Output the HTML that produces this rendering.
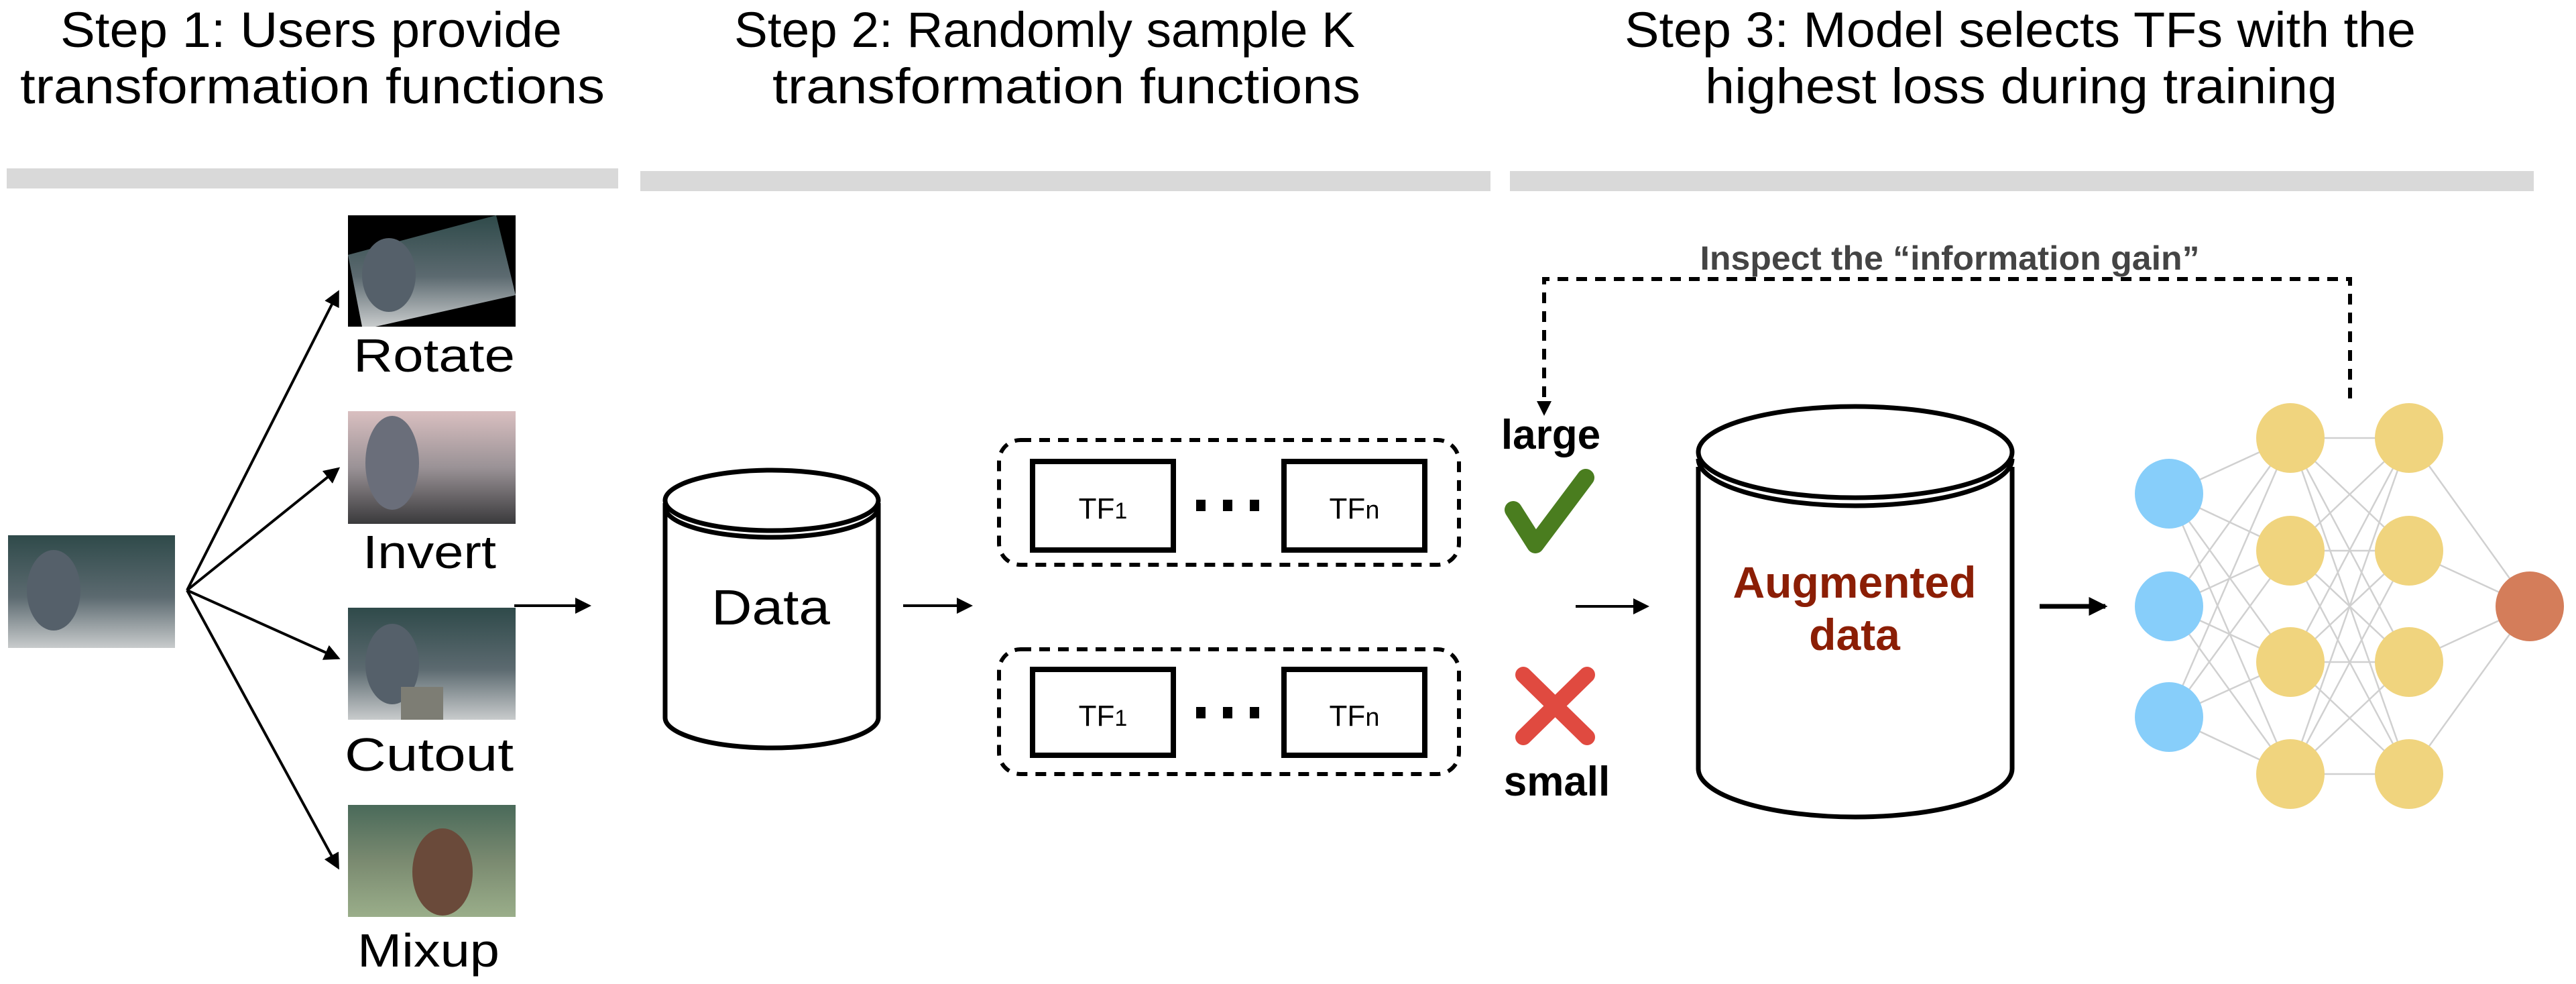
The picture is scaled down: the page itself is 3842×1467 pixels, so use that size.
<!DOCTYPE html>
<html><head><meta charset="utf-8"><style>
html,body{margin:0;padding:0;background:#fff;}
svg{display:block;}
</style></head><body>
<svg width="3842" height="1467" viewBox="0 0 3842 1467" xmlns="http://www.w3.org/2000/svg">
<defs>
<marker id="ah" markerWidth="6" markerHeight="6" refX="5" refY="3" orient="auto" markerUnits="strokeWidth"><path d="M0,0 L6,3 L0,6 z" fill="#000"/></marker>
<marker id="ah2" markerWidth="4" markerHeight="4" refX="3.5" refY="2" orient="auto" markerUnits="strokeWidth"><path d="M0,0 L4,2 L0,4 z" fill="#000"/></marker>
<linearGradient id="g1" x1="0" y1="0" x2="0" y2="1"><stop offset="0" stop-color="#2f4a4a"/><stop offset="0.55" stop-color="#5c6a70"/><stop offset="1" stop-color="#c8cbcc"/></linearGradient>
<linearGradient id="g2" x1="0" y1="0" x2="0" y2="1"><stop offset="0" stop-color="#d9bfc0"/><stop offset="0.5" stop-color="#9a9296"/><stop offset="1" stop-color="#3a3a3c"/></linearGradient>
<linearGradient id="g3" x1="0" y1="0" x2="0" y2="1"><stop offset="0" stop-color="#4a6a5a"/><stop offset="0.5" stop-color="#7a8a70"/><stop offset="1" stop-color="#9aae8a"/></linearGradient>
</defs>
<g font-family="Liberation Sans, sans-serif" fill="#000">
<!-- titles -->
<g font-size="74" lengthAdjust="spacingAndGlyphs">
<text x="90" y="70" textLength="748" lengthAdjust="spacingAndGlyphs">Step 1: Users provide</text>
<text x="30" y="154" textLength="872" lengthAdjust="spacingAndGlyphs">transformation functions</text>
<text x="1095" y="70" textLength="926" lengthAdjust="spacingAndGlyphs">Step 2: Randomly sample K</text>
<text x="1152" y="154" textLength="877" lengthAdjust="spacingAndGlyphs">transformation functions</text>
<text x="2423" y="70" textLength="1180" lengthAdjust="spacingAndGlyphs">Step 3: Model selects TFs with the</text>
<text x="2543" y="154" textLength="943" lengthAdjust="spacingAndGlyphs">highest loss during training</text>
</g>
<rect x="10" y="251" width="912" height="30" fill="#d9d9d9"/>
<rect x="955" y="255" width="1268" height="30" fill="#d9d9d9"/>
<rect x="2252" y="255" width="1527" height="30" fill="#d9d9d9"/>

<!-- images -->
<rect x="12" y="798" width="249" height="168" fill="url(#g1)"/>
<ellipse cx="80" cy="880" rx="40" ry="60" fill="#55606a"/>
<rect x="519" y="321" width="250" height="166" fill="#000"/>
<polygon points="540,487 519,380 740,321 769,440 560,487" fill="url(#g1)"/>
<ellipse cx="580" cy="410" rx="40" ry="55" fill="#55606a"/>
<rect x="519" y="613" width="250" height="168" fill="url(#g2)"/>
<ellipse cx="585" cy="690" rx="40" ry="70" fill="#6a6e7a"/>
<rect x="519" y="906" width="250" height="167" fill="url(#g1)"/>
<ellipse cx="585" cy="990" rx="40" ry="60" fill="#55606a"/>
<rect x="598" y="1024" width="63" height="49" fill="#7d7d74"/>
<rect x="519" y="1200" width="250" height="167" fill="url(#g3)"/>
<ellipse cx="660" cy="1300" rx="45" ry="65" fill="#6a4a3a"/>

<g font-size="70">
<text x="527" y="554" textLength="241" lengthAdjust="spacingAndGlyphs">Rotate</text>
<text x="541" y="847" textLength="199" lengthAdjust="spacingAndGlyphs">Invert</text>
<text x="514" y="1149" textLength="252" lengthAdjust="spacingAndGlyphs">Cutout</text>
<text x="533" y="1441" textLength="212" lengthAdjust="spacingAndGlyphs">Mixup</text>
</g>
<g stroke="#000" stroke-width="4" fill="none" marker-end="url(#ah)">
<line x1="279" y1="880" x2="504" y2="436"/>
<line x1="279" y1="880" x2="504" y2="699"/>
<line x1="279" y1="880" x2="504" y2="981"/>
<line x1="279" y1="880" x2="504" y2="1293"/>
<line x1="767" y1="903" x2="878" y2="903"/>
<line x1="1347" y1="903" x2="1447" y2="903"/>
<line x1="2350" y1="904" x2="2456" y2="904"/>
</g>
<line x1="3042" y1="904" x2="3140" y2="904" stroke="#000" stroke-width="7" marker-end="url(#ah2)"/>

<!-- Data cylinder -->
<g stroke="#000" stroke-width="7" fill="#fff">
<path d="M992,750 L992,1070 A159,45 0 0 0 1310,1070 L1310,750"/>
<path d="M992,756 A159,45 0 0 0 1310,756" fill="none"/>
<ellipse cx="1151" cy="746" rx="159" ry="45"/>
</g>
<text x="1061" y="931" font-size="74" textLength="177" lengthAdjust="spacingAndGlyphs">Data</text>

<!-- TF boxes -->
<g fill="none" stroke="#000">
<rect x="1490" y="656" width="686" height="186" rx="32" stroke-width="6" stroke-dasharray="16,12"/>
<rect x="1490" y="968" width="686" height="186" rx="32" stroke-width="6" stroke-dasharray="16,12"/>
<rect x="1540" y="688" width="210" height="132" stroke-width="8"/>
<rect x="1915" y="688" width="210" height="132" stroke-width="8"/>
<rect x="1540" y="998" width="210" height="128" stroke-width="8"/>
<rect x="1915" y="998" width="210" height="128" stroke-width="8"/>
</g>
<g fill="#000">
<rect x="1784" y="745" width="14" height="17"/><rect x="1824" y="745" width="14" height="17"/><rect x="1864" y="745" width="14" height="17"/>
<rect x="1784" y="1054" width="14" height="17"/><rect x="1824" y="1054" width="14" height="17"/><rect x="1864" y="1054" width="14" height="17"/>
</g>
<g font-size="44" text-anchor="middle">
<text x="1645" y="773">TF<tspan font-size="34">1</tspan></text>
<text x="2020" y="773">TF<tspan font-size="38">n</tspan></text>
<text x="1645" y="1082">TF<tspan font-size="34">1</tspan></text>
<text x="2020" y="1082">TF<tspan font-size="38">n</tspan></text>
</g>

<!-- feedback -->
<text x="2908" y="402" font-size="50" font-weight="bold" fill="#444" text-anchor="middle" textLength="745" lengthAdjust="spacingAndGlyphs">Inspect the “information gain”</text>
<path d="M3505,594 L3505,416 L2303,416 L2303,600" fill="none" stroke="#000" stroke-width="6" stroke-dasharray="16,12"/>
<path d="M2292,598 L2314,598 L2303,620 z" fill="#000"/>

<text x="2313" y="669" font-size="62" font-weight="bold" text-anchor="middle">large</text>
<path d="M2257,760 L2290,812 L2365,712" fill="none" stroke="#4a7d1f" stroke-width="26" stroke-linecap="round" stroke-linejoin="round"/>
<g stroke="#e04a40" stroke-width="24" stroke-linecap="round">
<line x1="2272" y1="1006" x2="2367" y2="1099"/><line x1="2367" y1="1006" x2="2272" y2="1099"/>
</g>
<text x="2322" y="1186" font-size="62" font-weight="bold" text-anchor="middle">small</text>

<!-- Augmented cylinder -->
<g stroke="#000" stroke-width="7" fill="#fff">
<path d="M2533,696 L2533,1146 A234,72 0 0 0 3001,1146 L3001,696"/>
<path d="M2533,684 A234,70 0 0 0 3001,684" fill="none"/>
<ellipse cx="2767" cy="674" rx="234" ry="68"/>
</g>
<g font-size="66" font-weight="bold" fill="#8b1e05" text-anchor="middle">
<text x="2766" y="891">Augmented</text>
<text x="2766" y="969">data</text>
</g>

<!-- NN -->
<g stroke="#d0d0d0" stroke-width="2.5">
<line x1="3235" y1="736" x2="3416" y2="653"/><line x1="3235" y1="736" x2="3416" y2="821"/><line x1="3235" y1="736" x2="3416" y2="987"/><line x1="3235" y1="736" x2="3416" y2="1154"/>
<line x1="3235" y1="904" x2="3416" y2="653"/><line x1="3235" y1="904" x2="3416" y2="821"/><line x1="3235" y1="904" x2="3416" y2="987"/><line x1="3235" y1="904" x2="3416" y2="1154"/>
<line x1="3235" y1="1069" x2="3416" y2="653"/><line x1="3235" y1="1069" x2="3416" y2="821"/><line x1="3235" y1="1069" x2="3416" y2="987"/><line x1="3235" y1="1069" x2="3416" y2="1154"/>
<line x1="3416" y1="653" x2="3593" y2="653"/><line x1="3416" y1="653" x2="3593" y2="821"/><line x1="3416" y1="653" x2="3593" y2="987"/><line x1="3416" y1="653" x2="3593" y2="1154"/>
<line x1="3416" y1="821" x2="3593" y2="653"/><line x1="3416" y1="821" x2="3593" y2="821"/><line x1="3416" y1="821" x2="3593" y2="987"/><line x1="3416" y1="821" x2="3593" y2="1154"/>
<line x1="3416" y1="987" x2="3593" y2="653"/><line x1="3416" y1="987" x2="3593" y2="821"/><line x1="3416" y1="987" x2="3593" y2="987"/><line x1="3416" y1="987" x2="3593" y2="1154"/>
<line x1="3416" y1="1154" x2="3593" y2="653"/><line x1="3416" y1="1154" x2="3593" y2="821"/><line x1="3416" y1="1154" x2="3593" y2="987"/><line x1="3416" y1="1154" x2="3593" y2="1154"/>
<line x1="3593" y1="653" x2="3773" y2="904"/><line x1="3593" y1="821" x2="3773" y2="904"/><line x1="3593" y1="987" x2="3773" y2="904"/><line x1="3593" y1="1154" x2="3773" y2="904"/>
</g>
<g fill="#87cefa">
<ellipse cx="3235" cy="736" rx="51" ry="52"/><ellipse cx="3235" cy="904" rx="51" ry="52"/><ellipse cx="3235" cy="1069" rx="51" ry="52"/>
</g>
<g fill="#f0d47e">
<ellipse cx="3416" cy="653" rx="51" ry="52"/><ellipse cx="3416" cy="821" rx="51" ry="52"/><ellipse cx="3416" cy="987" rx="51" ry="52"/><ellipse cx="3416" cy="1154" rx="51" ry="52"/>
<ellipse cx="3593" cy="653" rx="51" ry="52"/><ellipse cx="3593" cy="821" rx="51" ry="52"/><ellipse cx="3593" cy="987" rx="51" ry="52"/><ellipse cx="3593" cy="1154" rx="51" ry="52"/>
</g>
<ellipse cx="3773" cy="904" rx="51" ry="52" fill="#d47d5a"/>
</g>
</svg>
</body></html>
